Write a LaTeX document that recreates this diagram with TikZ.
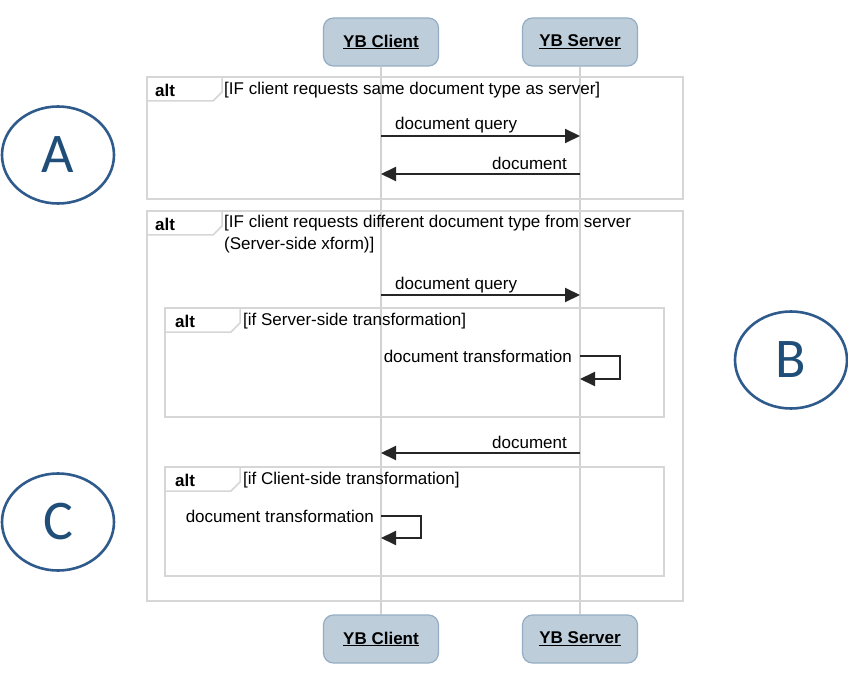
\documentclass[tikz,border=0pt]{standalone}
\usepackage{fontspec}
\setmainfont{Liberation Sans}
\newfontfamily\calib{Carlito}
\usetikzlibrary{arrows.meta,shapes.geometric}
\definecolor{headfill}{HTML}{BDCDDA}
\definecolor{headdraw}{HTML}{95ADC4}
\definecolor{framegray}{HTML}{D6D6D6}
\definecolor{lifegray}{HTML}{D2D2D2}
\definecolor{ringblue}{HTML}{2F5B8C}
\definecolor{letterblue}{HTML}{1F4E79}
\tikzset{
  head/.style={draw=headdraw, fill=headfill, line width=1.2pt, rounded corners=10pt,
    minimum width=115pt, minimum height=48pt, inner sep=0pt,
    font=\fontsize{17}{20}\selectfont\bfseries},
  lifeline/.style={draw=lifegray, line width=1.3pt},
  frame/.style={draw=framegray, line width=1.5pt},
  msg/.style={draw=black!85, line width=2pt, -{Triangle[length=15pt,width=14pt]}},
  lbl/.style={inner sep=0pt, font=\fontsize{17}{22}\selectfont},
  altlbl/.style={inner sep=0pt, font=\fontsize{17}{22}\selectfont\bfseries},
  ring/.style={ellipse, draw=ringblue, line width=2.6pt, minimum width=112pt, minimum height=97pt,
    inner sep=0pt, text=letterblue, font=\calib\fontsize{56}{60}\selectfont},
}
\begin{document}
\begin{tikzpicture}[x=1pt,y=-1pt]
\useasboundingbox (0,0) rectangle (848,676);
\fill[white] (0,0) rectangle (848,676);

% heads
\node[head] (ch) at (381,42) {\underline{YB Client}};
\node[head] (sh) at (580,42) {\underline{YB Server}};
\node[head] (cf) at (381,639) {\underline{YB Client}};
\node[head] (sf) at (580,639) {\underline{YB Server}};

% lifelines
\draw[lifeline] (ch.south) -- (cf.north);
\draw[lifeline] (sh.south) -- (sf.north);

% frame A
\draw[frame] (147,77) rectangle (683,199);
\draw[frame] (147,101) -- (213,101) -- (222,92) -- (222,77);
\node[altlbl, anchor=west] (a1) at (155,90) {alt};
\node[lbl, anchor=west] (g1) at (224,90) {[IF client requests same document type as server]};

% frame B (outer)
\draw[frame] (147,211) rectangle (683,601);
\draw[frame] (147,235) -- (213,235) -- (222,226) -- (222,211);
\node[altlbl, anchor=west] (a2) at (155,224) {alt};
\node[lbl, anchor=north west, align=left] (g2) at (224,215) {[IF client requests different document type from server\\(Server-side xform)]};

% inner frame 1
\draw[frame] (165,308) rectangle (664,417);
\draw[frame] (165,332) -- (231,332) -- (240,323) -- (240,308);
\node[altlbl, anchor=west] (a3) at (175,321) {alt};
\node[lbl, anchor=west] (g3) at (243,321) {[if Server-side transformation]};

% inner frame 2
\draw[frame] (165,467) rectangle (664,576);
\draw[frame] (165,491) -- (231,491) -- (240,482) -- (240,467);
\node[altlbl, anchor=west] (a4) at (175,480) {alt};
\node[lbl, anchor=west] (g4) at (243,480) {[if Client-side transformation]};

% message points on lifelines
\coordinate (c1) at (381,136); \coordinate (s1) at (580,136);
\coordinate (c2) at (381,174); \coordinate (s2) at (580,174);
\coordinate (c3) at (381,295); \coordinate (s3) at (580,295);
\coordinate (s4a) at (580,356); \coordinate (s4b) at (580,379);
\coordinate (s4r) at (620,356);
\coordinate (c5) at (381,453); \coordinate (s5) at (580,453);
\coordinate (c6a) at (381,516); \coordinate (c6b) at (381,538);
\coordinate (c6r) at (421,516);

% messages
\draw[msg] (c1) -- (s1);
\node[lbl, anchor=west] (m1) at (395,125) {document query};
\draw[msg] (s2) -- (c2);
\node[lbl, anchor=east] (m2) at (567,163) {document};

\draw[msg] (c3) -- (s3);
\node[lbl, anchor=west] (m3) at (395,285) {document query};

\draw[msg] (s4a) -- (s4r) |- (s4b);
\node[lbl, anchor=east] (m4) at (572,356) {document transformation};

\draw[msg] (s5) -- (c5);
\node[lbl, anchor=east] (m5) at (567,442) {document};

\draw[msg] (c6a) -- (c6r) |- (c6b);
\node[lbl, anchor=east] (m6) at (374,516) {document transformation};

% rings
\node[ring] (ra) at (58,155) {A};
\node[ring] (rb) at (791,360) {B};
\node[ring] (rc) at (58,522) {C};
\end{tikzpicture}
\end{document}
